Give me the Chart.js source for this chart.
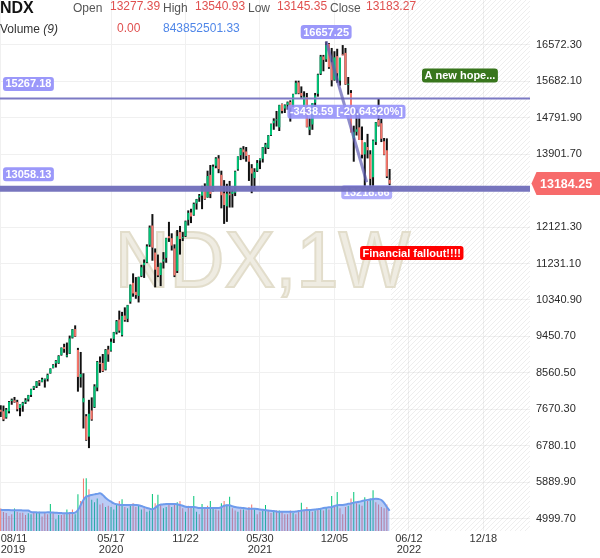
<!DOCTYPE html>
<html lang="en">
<head>
<meta charset="UTF-8" />
<title>NDX, 1W</title>
<script src="https://cdn.jsdelivr.net/npm/chart.js@4"></script>
<style>
  body { margin: 0; background: #fff; font-family: "Liberation Sans", Arial, sans-serif; }
  #wrap { position: relative; width: 600px; height: 558px; overflow: hidden; }
  canvas { position: absolute; left: 0; top: 0; }
  .hd { position: absolute; font-size: 12px; line-height: 12px; white-space: nowrap; color: #555; }
  .sym { font-weight: bold; font-size: 16px; line-height: 16px; color: #131313; }
  .val { color: #e0504f; }
  .ma { color: #4f86e8; }
</style>
</head>
<body>
<div id="wrap">
  <canvas id="chart" width="600" height="558"></canvas>
  <div class="hd sym" style="left:0;top:0">NDX</div>
  <div class="hd" style="left:73px;top:2px">Open</div>
  <div class="hd val" id="vOpen" style="left:110px;top:0"></div>
  <div class="hd" style="left:163px;top:2px">High</div>
  <div class="hd val" id="vHigh" style="left:195px;top:0"></div>
  <div class="hd" style="left:248px;top:2px">Low</div>
  <div class="hd val" id="vLow" style="left:277px;top:0"></div>
  <div class="hd" style="left:330px;top:2px">Close</div>
  <div class="hd val" id="vClose" style="left:366px;top:0"></div>
  <div class="hd" style="left:0;top:23px;color:#333">Volume <i>(9)</i></div>
  <div class="hd val" id="vVol" style="left:117px;top:22px"></div>
  <div class="hd ma" id="vMa" style="left:163px;top:22px"></div>
</div>

<script>
  // weekly candles, index 0 = week of 08/11/2019
  const opens = [
    7660, 7620, 7470, 7620, 7870, 7890, 7850, 7700, 7760, 7840,
    7910, 8020, 8180, 8230, 8350, 8340, 8390, 8410, 8550, 8680,
    8790, 8800, 9000, 9190, 8960, 9030, 9420, 9630, 9120, 8450,
    7840, 7500, 7000, 7640, 7720, 8200, 8810, 8800, 8640, 9130,
    9100, 9390, 9550, 9860, 9480, 9960, 9880, 10300, 10760, 10540,
    10440, 10930, 11190, 11260, 11690, 12160, 11500, 11150, 10950, 11280,
    11370, 11900, 11850, 11600, 11050, 12000, 11850, 11900, 12300, 12480,
    12420, 12700, 12850, 12890, 13100, 12850, 13400, 13000, 13620, 13800,
    13400, 12950, 12630, 12940, 12930, 12960, 13530, 13880, 14020, 13970,
    13880, 13560, 13320, 13500, 13750, 13790, 14070, 14060, 14370, 14660,
    14730, 14560, 15130, 15020, 15110, 15180, 15100, 15380, 15660, 15400,
    15050, 15300, 14500, 14630, 15160, 15380, 15870, 16290, 16220, 16600,
    16150, 15720, 16300, 15700, 16330, 16380, 15600, 15400, 14290, 14450,
    14560, 14250, 13900, 14080, 13900, 13340, 14200, 14740, 14660, 14220,
    14000, 13277.39
  ];
  const highs = [
    7770, 7760, 7700, 7870, 7930, 7970, 7900, 7790, 7850, 7940,
    8020, 8170, 8240, 8360, 8380, 8440, 8420, 8540, 8670, 8770,
    8870, 8990, 9180, 9270, 9300, 9470, 9630, 9720, 9170, 9070,
    8550, 7550, 7900, 7960, 8280, 8850, 8960, 9020, 9140, 9220,
    9400, 9560, 9850, 10080, 10050, 10160, 10220, 10720, 10990, 10900,
    10910, 11200, 11330, 11700, 12160, 12440, 11600, 11450, 11250, 11510,
    11860, 12250, 11970, 11700, 12050, 12150, 12000, 12280, 12530, 12570,
    12720, 12810, 12930, 13130, 13190, 13500, 13640, 13650, 13830, 13880,
    13500, 13270, 13180, 13250, 13040, 13500, 13850, 14060, 14100, 14080,
    13880, 13660, 13560, 13760, 13800, 14080, 14180, 14370, 14650, 14780,
    14960, 15110, 15140, 15120, 15190, 15220, 15380, 15700, 15700, 15560,
    15440, 15400, 14780, 15150, 15400, 15870, 16330, 16330, 16657.25, 16620,
    16500, 16420, 16480, 16260, 16570, 16500, 15790, 15470, 14600, 15000,
    14900, 14580, 14190, 14400, 14000, 14260, 14690, 15267.18, 14770, 14300,
    14290, 13540.93
  ];
  const lows = [
    7480, 7380, 7440, 7570, 7780, 7830, 7620, 7500, 7610, 7800,
    7860, 7970, 8140, 8190, 8240, 8330, 8200, 8350, 8540, 8670,
    8690, 8780, 8980, 9050, 8940, 9020, 9400, 9440, 8100, 8200,
    7200, 6900, 6720, 7390, 7700, 8110, 8560, 8580, 8620, 8830,
    9080, 9290, 9500, 9540, 9450, 9810, 9800, 10250, 10420, 10370,
    10280, 10900, 10880, 11240, 11640, 11300, 10650, 10900, 10680, 11110,
    11250, 11760, 11550, 10900, 11000, 11450, 11780, 11880, 12160, 12220,
    12400, 12550, 12740, 12560, 12790, 12840, 12830, 12990, 13560, 13440,
    12580, 12200, 12250, 12600, 12600, 12880, 13500, 13760, 13780, 13720,
    13250, 12950, 13020, 13470, 13540, 13700, 13910, 14030, 14350, 14500,
    14580, 14470, 14900, 14910, 14990, 14700, 15060, 15370, 15370, 15280,
    14990, 14560, 14370, 14500, 15050, 15310, 15840, 15930, 16160, 15990,
    15560, 15700, 15650, 15580, 16320, 15600, 15360, 14440, 13720, 14360,
    14250, 13800, 13020, 13800, 13050, 13100, 14130, 14580, 14200, 13880,
    13320, 13145.35
  ];
  const closes = [
    7610, 7420, 7660, 7850, 7900, 7840, 7670, 7780, 7830, 7890,
    8010, 8160, 8230, 8350, 8320, 8400, 8400, 8510, 8660, 8750,
    8850, 8970, 9170, 9140, 8990, 9400, 9620, 9450, 8460, 8530,
    7940, 6920, 7560, 7420, 8230, 8830, 8780, 8600, 9120, 9010,
    9320, 9550, 9820, 9590, 9950, 9850, 10210, 10700, 10500, 10460,
    10900, 11140, 11250, 11650, 12110, 11620, 11080, 10940, 11240, 11330,
    11850, 11850, 11670, 10940, 11900, 11830, 11850, 12260, 12470, 12380,
    12690, 12800, 12890, 13100, 12810, 13370, 12930, 13600, 13800, 13540,
    12900, 12660, 12940, 12900, 12990, 13480, 13850, 14040, 13950, 13860,
    13720, 13430, 13470, 13690, 13790, 14070, 14140, 14360, 14640, 14720,
    14730, 15100, 14960, 15100, 15170, 15030, 15370, 15650, 15390, 15330,
    15310, 14570, 14580, 15150, 15340, 15850, 16290, 16210, 16570, 16030,
    15710, 16270, 15880, 16260, 16320, 15610, 15610, 14440, 14440, 14510,
    14250, 13890, 14190, 14000, 13300, 14240, 14680, 14600, 14280, 13890,
    13360, 13183.27
  ];

  // volume in millions, bar colour u = green, d = red
  const volumesM = [
    940, 790, 750, 625, 700, 940, 800, 760, 760, 665,
    735, 695, 760, 800, 800, 600, 760, 695, 1120, 760,
    490, 665, 665, 695, 900, 760, 900, 695, 1525, 1250,
    2190, 2200, 1735, 1300, 1200, 1350, 1100, 1150, 1000, 1050,
    1000, 900, 1100, 1250, 1320, 1000, 950, 1050, 1150, 1000,
    1050, 900, 950, 800, 850, 1540, 1150, 1510, 1100, 950,
    1000, 1150, 1000, 1150, 1200, 1250, 950, 800, 1050, 1000,
    1456, 800, 700, 1120, 1000, 1050, 1250, 1000, 900, 850,
    1150, 1250, 1100, 1430, 950, 850, 800, 900, 900, 850,
    1000, 1100, 900, 700, 800, 850, 1080, 850, 750, 800,
    850, 850, 800, 700, 700, 850, 750, 700, 800, 1180,
    850, 1000, 900, 800, 850, 900, 950, 850, 1000, 900,
    1456, 1000, 1620, 950, 700, 1000, 1050, 1350, 1620, 1150,
    1100, 1050, 1400, 1250, 1350, 1700, 1200, 1100, 1000, 950,
    1100, 0
  ];
  const volDir = [
    'd','d','d','d','d','u','d','d','d','d',
    'u','u','d','u','u','d','d','d','u','d',
    'u','u','d','d','u','d','d','u','u','d',
    'd','u','d','u','u','u','d','d','u','d',
    'u','u','u','d','u','d','u','u','d','d',
    'u','u','d','u','u','u','d','u','d','u',
    'u','d','u','d','u','d','d','u','d','d',
    'u','u','d','u','d','d','u','u','d','d',
    'u','d','u','u','d','d','u','d','u','d',
    'd','d','u','d','d','u','u','d','d','u',
    'd','u','d','d','d','d','u','d','d','u',
    'd','d','u','d','u','d','u','d','u','d',
    'u','d','u','d','d','d','u','d','u','d',
    'u','d','u','d','u','u','d','d','d','d',
    'd','d'
  ];
  // Volume (9) moving average, millions
  const volMaM = [
    880, 875, 870, 870, 868, 865, 862, 860, 858, 855,
    850, 790, 780, 775, 770, 768, 770, 780, 775, 770,
    760, 750, 745, 740, 740, 745, 750, 760, 875, 1080,
    1290, 1430, 1470, 1500, 1525, 1545, 1568, 1500, 1385, 1290,
    1220, 1150, 1110, 1090, 1085, 1080, 1080, 1085, 1090, 1085,
    1075, 1040, 1000, 960, 930, 905, 960, 1060, 1100, 1110,
    1120, 1125, 1120, 1120, 1110, 1080, 1050, 1010, 1000, 995,
    1000, 980, 960, 955, 957, 960, 960, 958, 955, 960,
    990, 1050, 1070, 1070, 1030, 1000, 980, 965, 957, 940,
    930, 930, 925, 915, 895, 880, 865, 850, 840, 830,
    815, 805, 800, 800, 800, 800, 805, 815, 830, 845,
    860, 870, 875, 880, 890, 910, 930, 955, 970, 985,
    1000, 1040, 1070, 1080, 1085, 1100, 1130, 1145, 1180, 1200,
    1215, 1250, 1275, 1295, 1310, 1330, 1340, 1330, 1290, 1170,
    1000, 843.85250133
  ];

  const yTicks = [4999.70, 5889.90, 6780.10, 7670.30, 8560.50, 9450.70, 10340.90,
                  11231.10, 12121.30, 13011.50, 13901.70, 14791.90, 15682.10, 16572.30];
  const xTickWeeks = [0, 40, 67, 94, 121, 148, 175];
  const xTickLabels = [['08/11', '2019'], ['05/17', '2020'], ['11/22'], ['05/30', '2021'],
                       ['12/05'], ['06/12', '2022'], ['12/18']];

  // drawings on the chart: [week, price]
  const levels = [15267.18, 13058.13];
  const trendFrom = [118, 16657.25];
  const trendTo = [132.7, 13218.66];
  const noteHope = { text: 'A new hope...', at: [166.5, 15827] };
  const noteFall = { text: 'Financial fallout!!!!', at: [130.3, 11489] };
  const lastPrice = 13184.25;

  const FONT = '"Liberation Sans", Arial, sans-serif';
  const UP = '#00c477', DOWN = '#f6766b';
  const last = opens.length - 1;
  const weeks = opens.map((_, i) => i);

  document.getElementById('vOpen').textContent = opens[last].toFixed(2);
  document.getElementById('vHigh').textContent = highs[last].toFixed(2);
  document.getElementById('vLow').textContent = lows[last].toFixed(2);
  document.getElementById('vClose').textContent = closes[last].toFixed(2);
  document.getElementById('vVol').textContent = volumesM[last].toFixed(2);
  document.getElementById('vMa').textContent = (volMaM[last] * 1e6).toFixed(2);

  function tag(ctx, text, x, cy, bg, align) {
    ctx.font = 'bold 11px ' + FONT;
    const w = ctx.measureText(text).width + 5, h = 14;
    const left = align === 'left' ? x : x - w / 2;
    ctx.fillStyle = bg;
    ctx.beginPath();
    ctx.roundRect(left, cy - h / 2, w, h, 3);
    ctx.fill();
    ctx.fillStyle = '#fff';
    ctx.textAlign = 'left';
    ctx.textBaseline = 'middle';
    ctx.fillText(text, left + 2.5, cy + 0.5);
  }

  const drawings = {
    id: 'drawings',
    beforeDatasetsDraw(chart) {
      const { ctx, chartArea: a, scales: { x } } = chart;
      // future area hatch
      const hx = x.getPixelForValue(last + 0.5);
      ctx.save();
      ctx.beginPath();
      ctx.rect(hx, a.top, a.right - hx, a.bottom - a.top);
      ctx.clip();
      ctx.strokeStyle = 'rgba(0,0,0,0.07)';
      ctx.lineWidth = 1;
      ctx.beginPath();
      const h = a.bottom - a.top;
      for (let d = hx - h; d < a.right; d += 5) {
        ctx.moveTo(d, a.bottom);
        ctx.lineTo(d + h, a.top);
      }
      ctx.stroke();
      ctx.restore();

      // watermark
      ctx.save();
      ctx.translate((a.left + a.right) / 2 - 2.5, 287);
      ctx.scale(0.95, 1);
      ctx.font = '80px ' + FONT;
      ctx.textAlign = 'center';
      ctx.textBaseline = 'alphabetic';
      ctx.fillStyle = '#efece2';
      ctx.fillText('NDX,1W', 0, 0);
      ctx.strokeStyle = '#e2ddcb';
      ctx.lineWidth = 2;
      ctx.strokeText('NDX,1W', 0, 0);
      ctx.restore();
    },
    afterDatasetsDraw(chart) {
      const { ctx, chartArea: a, scales: { x, y } } = chart;
      ctx.save();
      const ly0 = y.getPixelForValue(levels[0]);
      const ly1 = y.getPixelForValue(levels[1]);

      ctx.strokeStyle = '#7c7ac4';
      ctx.lineWidth = 2;
      ctx.beginPath();
      ctx.moveTo(a.left, ly0);
      ctx.lineTo(a.right, ly0);
      ctx.stroke();

      const x1 = x.getPixelForValue(trendFrom[0]), y1 = y.getPixelForValue(trendFrom[1]);
      const x2 = x.getPixelForValue(trendTo[0]), y2 = y.getPixelForValue(trendTo[1]);
      ctx.strokeStyle = 'rgba(95,92,180,0.7)';
      ctx.lineWidth = 3;
      ctx.beginPath();
      ctx.moveTo(x1, y1);
      ctx.lineTo(x2, y2);
      ctx.stroke();

      tag(ctx, trendTo[1].toFixed(2), x2, y2 + 10, 'rgba(150,146,250,0.75)', 'center');

      ctx.strokeStyle = 'rgba(112,110,186,0.95)';
      ctx.lineWidth = 6;
      ctx.beginPath();
      ctx.moveTo(a.left, ly1);
      ctx.lineTo(a.right, ly1);
      ctx.stroke();

      const diff = trendTo[1] - trendFrom[1];
      const pct = diff / trendFrom[1] * 100;
      tag(ctx, levels[0].toFixed(2), 3, ly0 - 14.5, 'rgba(150,146,250,0.95)', 'left');
      tag(ctx, levels[1].toFixed(2), 3, ly1 - 14.5, 'rgba(150,146,250,0.95)', 'left');
      tag(ctx, trendFrom[1].toFixed(2), x1, y1 - 9.5, 'rgba(150,146,250,0.95)', 'center');
      tag(ctx, diff.toFixed(2) + ' [' + pct.toFixed(5) + '%]', (x1 + x2) / 2, (y1 + y2) / 2,
          'rgba(150,146,250,0.9)', 'center');

      tag(ctx, noteHope.text, x.getPixelForValue(noteHope.at[0]), y.getPixelForValue(noteHope.at[1]),
          '#38761d', 'center');
      tag(ctx, noteFall.text, x.getPixelForValue(noteFall.at[0]), y.getPixelForValue(noteFall.at[1]),
          '#ff0000', 'left');
      ctx.restore();
    },
    afterDraw(chart) {
      const { ctx, chartArea: a, scales: { y } } = chart;
      const cy = y.getPixelForValue(lastPrice);
      ctx.save();
      ctx.fillStyle = '#f76b6b';
      ctx.beginPath();
      ctx.moveTo(a.right + 1.5, cy);
      ctx.lineTo(a.right + 6.5, cy - 11.5);
      ctx.lineTo(600, cy - 11.5);
      ctx.lineTo(600, cy + 11.5);
      ctx.lineTo(a.right + 6.5, cy + 11.5);
      ctx.closePath();
      ctx.fill();
      ctx.font = 'bold 12.5px ' + FONT;
      ctx.fillStyle = '#fff';
      ctx.textAlign = 'left';
      ctx.textBaseline = 'middle';
      ctx.fillText(lastPrice.toFixed(2), a.right + 10, cy + 0.5);
      ctx.restore();
    }
  };

  new Chart(document.getElementById('chart'), {
    type: 'bar',
    data: {
      datasets: [
        {
          type: 'line',
          yAxisID: 'yv',
          data: weeks.map(i => ({ x: i, y: volMaM[i] })),
          borderColor: '#6e9bec',
          borderWidth: 2,
          backgroundColor: 'rgba(90,130,230,0.42)',
          fill: 'origin',
          pointRadius: 0,
          tension: 0.4,
          order: 1
        },
        {
          yAxisID: 'yv',
          data: weeks.map(i => ({ x: i, y: volumesM[i] })),
          backgroundColor: weeks.map(i => volDir[i] === 'u' ? UP : DOWN),
          barThickness: 1,
          grouped: false,
          inflateAmount: 0,
          order: 2
        },
        {
          yAxisID: 'y',
          data: weeks.map(i => ({ x: i, y: [Math.min(opens[i], closes[i]), Math.max(opens[i], closes[i])] })),
          backgroundColor: weeks.map(i => closes[i] >= opens[i] ? UP : DOWN),
          barThickness: 2,
          minBarLength: 1,
          grouped: false,
          inflateAmount: 0,
          order: 3
        },
        {
          yAxisID: 'y',
          data: weeks.map(i => ({ x: i, y: [lows[i], highs[i]] })),
          backgroundColor: '#111',
          barThickness: 2,
          grouped: false,
          inflateAmount: 0,
          order: 4
        }
      ]
    },
    options: {
      responsive: false,
      animation: false,
      layout: { padding: 0 },
      plugins: { legend: { display: false }, tooltip: { enabled: false } },
      scales: {
        x: {
          type: 'linear',
          offset: false,
          min: -0.254,
          max: 191.9,
          border: { display: false },
          grid: {
            offset: false,
            drawTicks: false,
            color: ctx => ctx.index < xTickWeeks.length ? '#f0f0f0' : 'transparent'
          },
          ticks: {
            align: 'inner',
            padding: 2,
            color: '#333',
            maxRotation: 0,
            autoSkip: false,
            font: { family: FONT, size: 11, lineHeight: 1 },
            callback: (v, idx) => xTickLabels[idx] || ''
          },
          afterBuildTicks: s => {
            s.ticks = xTickWeeks.map(v => ({ value: v })).concat([{ value: s.max }]);
          },
          afterFit: s => { s.height = 27; s.paddingLeft = 0; s.paddingRight = 0; }
        },
        y: {
          position: 'right',
          min: 4694.2,
          max: 17672,
          border: { display: false },
          grid: { drawTicks: false, color: '#f0f0f0' },
          ticks: {
            padding: 6,
            color: '#2a2a2a',
            font: { family: FONT, size: 11 },
            callback: v => v.toFixed(2)
          },
          afterBuildTicks: s => { s.ticks = yTicks.map(v => ({ value: v })); },
          afterFit: s => { s.width = 70; s.paddingTop = 0; s.paddingBottom = 0; }
        },
        yv: {
          display: false,
          min: 0,
          max: 22100
        }
      }
    },
    plugins: [drawings]
  });
</script>
</body>
</html>
